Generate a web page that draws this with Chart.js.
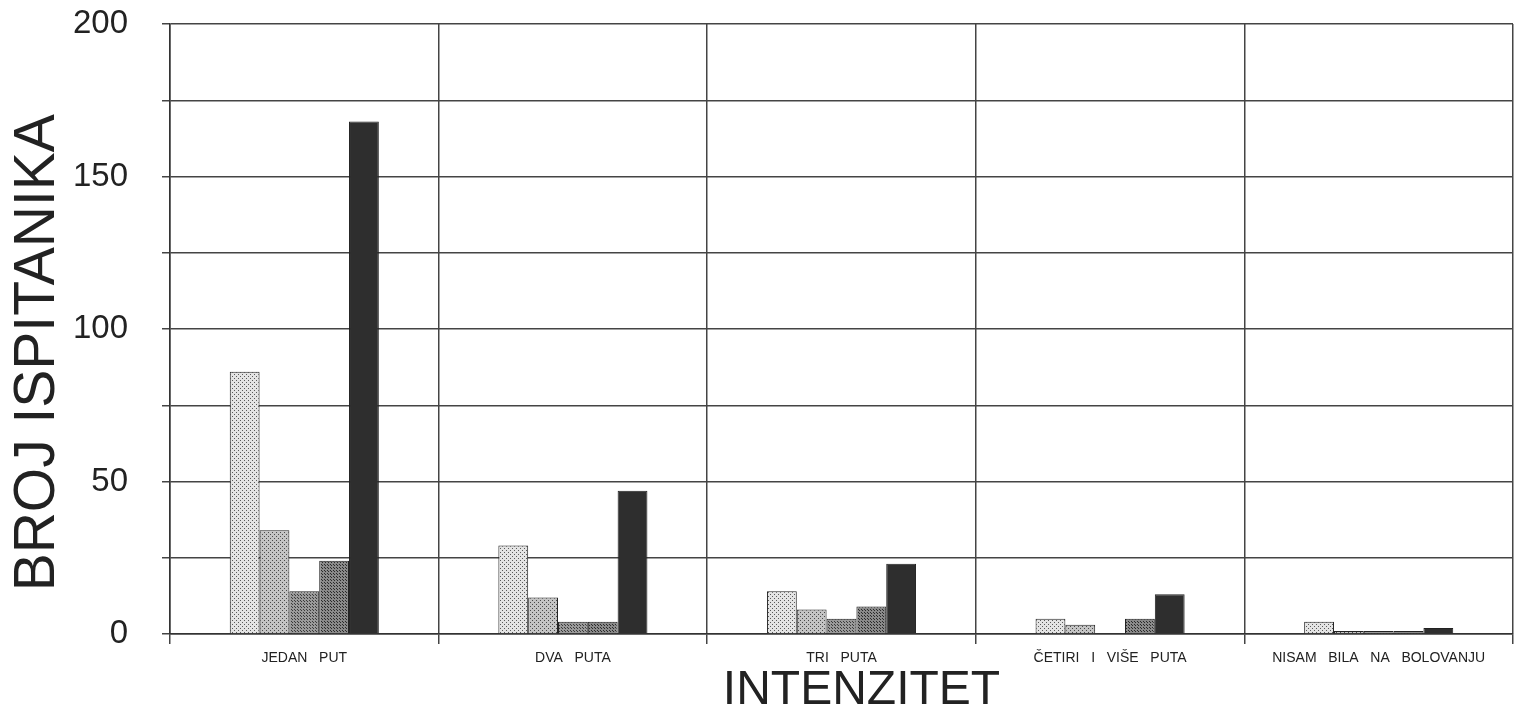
<!DOCTYPE html>
<html lang="hr">
<head>
    <meta charset="UTF-8">
    <title>Intenzitet</title>
    <script src="https://cdn.jsdelivr.net/npm/chart.js"></script>
    <style>
        html, body { margin: 0; padding: 0; background: #fff; }
        #wrap { width: 1515px; height: 715px; }
    </style>
</head>
<body>
    <div id="wrap"><canvas id="myChart"></canvas></div>

    <script>
        // podaci ocitani sa slike
        const kategorije = ['JEDAN   PUT', 'DVA   PUTA', 'TRI   PUTA', 'ČETIRI   I   VIŠE   PUTA', 'NISAM   BILA   NA   BOLOVANJU'];
        const serija1 = [86, 29, 14, 5, 4];
        const serija2 = [34, 12, 8, 3, 1];
        const serija3 = [14, 4, 5, 0, 1];
        const serija4 = [24, 4, 9, 5, 1];
        const serija5 = [168, 47, 23, 13, 2];
        const yOznake = [0, 50, 100, 150, 200];

        const ctx = document.getElementById('myChart').getContext('2d');
        const font = '"Liberation Sans", Arial, sans-serif';

        // tockasti uzorci kao na originalu
        function uzorak(pozadina, tocka, vel) {
            const c = document.createElement('canvas');
            c.width = vel; c.height = vel;
            const g = c.getContext('2d');
            g.fillStyle = pozadina;
            g.fillRect(0, 0, vel, vel);
            g.fillStyle = tocka;
            g.fillRect(0, 0, 1, 1);
            g.fillRect(Math.floor(vel / 2), Math.floor(vel / 2), 1, 1);
            return ctx.createPattern(c, 'repeat');
        }

        const boje = [
            uzorak('#e4e4e4', '#5a5a5a', 4),
            uzorak('#c4c4c4', '#4a4a4a', 4),
            uzorak('#9a9a9a', '#3a3a3a', 3),
            uzorak('#8a8a8a', '#2a2a2a', 3),
            '#2e2e2e'
        ];
        const serije = [serija1, serija2, serija3, serija4, serija5];

        new Chart(ctx, {
            type: 'bar',
            data: {
                labels: kategorije,
                datasets: serije.map((s, i) => ({
                    data: s,
                    backgroundColor: boje[i],
                    borderColor: '#222',
                    borderWidth: 1,
                    categoryPercentage: 0.555,
                    barPercentage: 1
                }))
            },
            options: {
                responsive: true,
                maintainAspectRatio: false,
                animation: false,
                layout: { padding: { top: 24, right: 2, left: 0, bottom: 0 } },
                plugins: {
                    legend: { display: false },
                    tooltip: { enabled: false }
                },
                scales: {
                    x: {
                        grid: { color: '#444', lineWidth: 1.5, tickLength: 10, offset: true },
                        border: { color: '#333', width: 1.5 },
                        ticks: {
                            color: '#222',
                            padding: 6,
                            maxRotation: 0,
                            autoSkip: false,
                            font: { family: font, size: 14 }
                        },
                        title: {
                            display: true,
                            // razmaci pomicu naslov malo udesno kao na originalu
                            text: '   INTENZITET',
                            color: '#222',
                            padding: 0,
                            font: { family: font, size: 48, lineHeight: 1 }
                        },
                        afterFit: (a) => { a.height = 81; }
                    },
                    y: {
                        min: 0,
                        max: 200,
                        grid: { color: '#444', lineWidth: 1.5, tickLength: 8 },
                        border: { color: '#333', width: 1.5 },
                        ticks: {
                            stepSize: 25,
                            color: '#222',
                            padding: 34,
                            font: { family: font, size: 33 },
                            callback: (v) => yOznake.includes(v) ? v : ''
                        },
                        title: {
                            display: true,
                            text: 'BROJ ISPITANIKA   ',
                            color: '#222',
                            padding: { top: 4, bottom: 0 },
                            font: { family: font, size: 57, lineHeight: 1.2 }
                        },
                        afterFit: (a) => {
                            a.width = 170;
                            a.paddingTop = 0;
                            a.paddingBottom = 0;
                        }
                    }
                }
            }
        });
    </script>
</body>
</html>
